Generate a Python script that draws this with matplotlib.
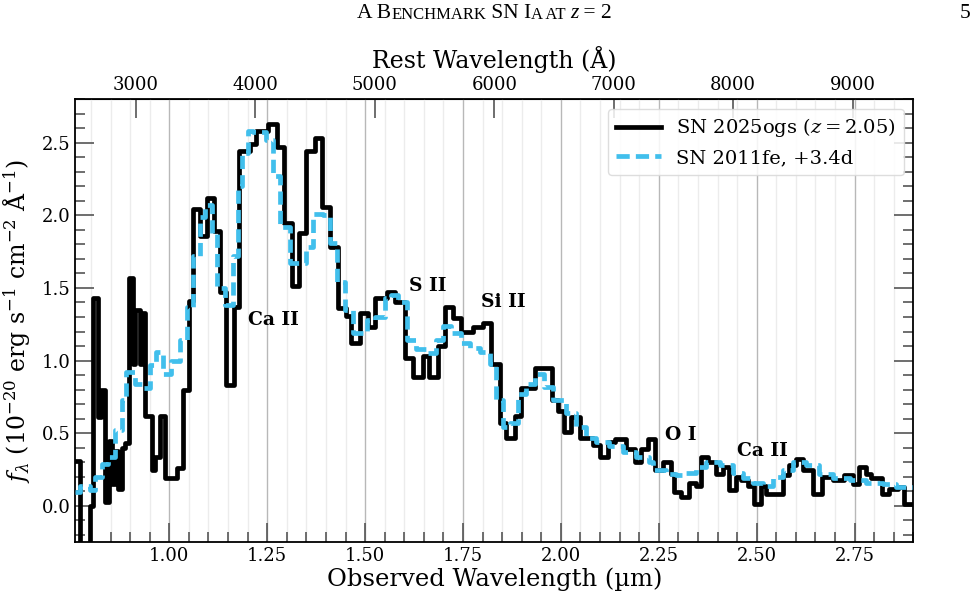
import numpy as np
import matplotlib
matplotlib.use("Agg")
import matplotlib.pyplot as plt
from matplotlib.ticker import MultipleLocator

plt.rcParams["font.family"] = "DejaVu Serif"
plt.rcParams["mathtext.fontset"] = "dejavuserif"

Z = 2.05

# SN 2025ogs binned spectrum: bin edges (observed, um) and flux (1e-20 cgs)
obs_edges = [
    0.760, 0.772, 0.797, 0.806, 0.817, 0.826, 0.836, 0.845, 0.853, 0.861,
    0.870, 0.878, 0.886, 0.898, 0.906, 0.912, 0.924, 0.930, 0.938, 0.955,
    0.964, 0.976, 0.989, 1.019, 1.036, 1.049, 1.061, 1.078, 1.095, 1.115,
    1.129, 1.146, 1.166, 1.179, 1.207, 1.222, 1.252, 1.276, 1.293, 1.312,
    1.330, 1.349, 1.372, 1.390, 1.410, 1.431, 1.452, 1.465, 1.487, 1.508,
    1.525, 1.555, 1.576, 1.601, 1.622, 1.648, 1.663, 1.686, 1.703, 1.725,
    1.746, 1.776, 1.800, 1.822, 1.844, 1.861, 1.882, 1.899, 1.933, 1.976,
    1.992, 2.009, 2.027, 2.048, 2.082, 2.099, 2.120, 2.137, 2.167, 2.188,
    2.205, 2.222, 2.239, 2.260, 2.282, 2.290, 2.307, 2.328, 2.345, 2.358,
    2.375, 2.396, 2.413, 2.430, 2.448, 2.460, 2.477, 2.494, 2.511, 2.524,
    2.566, 2.583, 2.601, 2.617, 2.643, 2.668, 2.694, 2.724, 2.745, 2.762,
    2.779, 2.792, 2.821, 2.839, 2.860, 2.877, 2.900,
]
obs_flux = [
    0.31, -0.35, 0.00, 1.43, 0.61, 0.80, 0.03, 0.45, 0.15, 0.38,
    0.12, 0.40, 0.43, 1.57, 0.98, 1.35, 0.98, 1.33, 0.62, 0.25,
    0.34, 0.62, 0.19, 0.26, 0.80, 1.41, 2.04, 1.86, 2.12, 1.89,
    1.47, 0.83, 1.37, 2.44, 2.49, 2.58, 2.63, 2.47, 1.95, 1.51,
    1.88, 2.44, 2.53, 2.06, 1.78, 1.36, 1.31, 1.12, 1.33, 1.23,
    1.43, 1.47, 1.40, 1.02, 0.89, 1.03, 0.89, 1.10, 1.37, 1.29,
    1.20, 1.23, 1.26, 0.98, 0.57, 0.47, 0.62, 0.81, 0.95, 0.73,
    0.65, 0.51, 0.61, 0.47, 0.42, 0.34, 0.44, 0.46, 0.39, 0.30,
    0.39, 0.46, 0.245, 0.30, 0.22, 0.095, 0.06, 0.16, 0.14, 0.34,
    0.30, 0.22, 0.27, 0.107, 0.20, 0.176, 0.14, 0.015, 0.14, 0.084,
    0.21, 0.28, 0.325, 0.245, 0.084, 0.20, 0.176, 0.21, 0.153, 0.27,
    0.22, 0.19, 0.084, 0.12, 0.13, 0.015,
]

# SN 2011fe template at +3.4d, redshifted and scaled
tmpl_edges = [
    0.760, 0.771, 0.797, 0.810, 0.827, 0.844, 0.861, 0.878, 0.890, 0.912,
    0.929, 0.950, 0.965, 0.984, 1.005, 1.026, 1.045, 1.061, 1.078, 1.091,
    1.108, 1.121, 1.142, 1.162, 1.176, 1.185, 1.202, 1.214, 1.248, 1.265,
    1.282, 1.308, 1.350, 1.368, 1.393, 1.410, 1.427, 1.448, 1.469, 1.504,
    1.525, 1.550, 1.567, 1.584, 1.606, 1.631, 1.657, 1.682, 1.699, 1.720,
    1.746, 1.767, 1.793, 1.818, 1.835, 1.852, 1.869, 1.890, 1.912, 1.933,
    1.958, 1.980, 2.014, 2.039, 2.065, 2.090, 2.124, 2.158, 2.192, 2.226,
    2.235, 2.269, 2.294, 2.320, 2.345, 2.371, 2.405, 2.439, 2.465, 2.490,
    2.516, 2.541, 2.567, 2.592, 2.626, 2.660, 2.694, 2.737, 2.779, 2.822,
    2.856, 2.900,
]
tmpl_flux = [
    0.095, 0.14, 0.11, 0.20, 0.29, 0.34, 0.52, 0.73, 0.92, 0.84,
    0.81, 0.97, 1.06, 0.91, 1.00, 1.14, 1.37, 1.72, 1.99, 2.07,
    1.87, 1.50, 1.38, 1.72, 2.20, 2.43, 2.58, 2.57, 2.52, 2.27,
    1.92, 1.67, 1.78, 2.01, 2.00, 1.81, 1.54, 1.35, 1.19, 1.28,
    1.30, 1.43, 1.45, 1.40, 1.14, 1.08, 1.05, 1.14, 1.24, 1.19,
    1.12, 1.09, 1.06, 0.98, 0.73, 0.54, 0.57, 0.77, 0.84, 0.91,
    0.82, 0.73, 0.64, 0.54, 0.47, 0.44, 0.41, 0.37, 0.34, 0.30,
    0.245, 0.22, 0.21, 0.23, 0.27, 0.30, 0.28, 0.23, 0.19, 0.16,
    0.14, 0.20, 0.245, 0.30, 0.28, 0.22, 0.19, 0.176, 0.16, 0.15,
    0.13,
]

# line identifications
line_names = ["Ca II", "S II", "Si II", "O I", "Ca II"]
line_x = [1.265, 1.660, 1.854, 2.307, 2.514]
line_y = [1.28, 1.51, 1.40, 0.49, 0.38]

rest_ticks = [3000, 4000, 5000, 6000, 7000, 8000, 9000]

fig = plt.figure(figsize=(9.76, 6.01), dpi=100)
ax = fig.add_axes([0.0772, 0.0977, 0.8586, 0.7376])

ax.step(obs_edges, np.append(obs_flux, obs_flux[-1]), where="post",
        color="black", lw=3.4, zorder=3, label=r"SN 2025ogs ($z=2.05$)")
ax.step(tmpl_edges, np.append(tmpl_flux, tmpl_flux[-1]), where="post",
        color="#41bfec", lw=3.4, ls=(0, (2.8, 1.3)), zorder=4,
        label="SN 2011fe, +3.4d")

for name, x, y in zip(line_names, line_x, line_y):
    ax.text(x, y, name, fontsize=13.5, fontweight="bold",
            ha="center", va="center", zorder=5)

ax.set_xlim(0.76, 2.9)
ax.set_ylim(-0.25, 2.8)

ax.xaxis.set_major_locator(MultipleLocator(0.25))
ax.xaxis.set_minor_locator(MultipleLocator(0.05))
ax.yaxis.set_major_locator(MultipleLocator(0.5))
ax.yaxis.set_minor_locator(MultipleLocator(0.1))
ax.xaxis.set_major_formatter("{x:.2f}")
ax.yaxis.set_major_formatter("{x:.1f}")

ax.set_axisbelow(True)
ax.grid(which="minor", axis="x", color="#ececec", lw=1.0)
ax.grid(which="major", axis="x", color="#b8b8b8", lw=1.0)

ax.tick_params(which="both", direction="in", top=False, right=True,
               color="#555555", labelsize=13, width=1.2)
ax.tick_params(which="major", length=14)
ax.tick_params(which="minor", length=7)
for sp in ax.spines.values():
    sp.set_linewidth(1.3)

ax.set_xlabel("Observed Wavelength (µm)", fontsize=17.5, labelpad=2)
ax.set_ylabel(r"$f_\lambda$ ($10^{-20}$ erg s$^{-1}$ cm$^{-2}$ Å$^{-1}$)",
              fontsize=17, labelpad=6)

sec = ax.secondary_xaxis("top", functions=(lambda w: w * 1e4 / (1 + Z),
                                           lambda r: r * (1 + Z) / 1e4))
sec.set_xticks(rest_ticks)
sec.tick_params(direction="in", length=14, width=1.2, color="#555555",
                labelsize=13)
sec.set_xlabel("Rest Wavelength (Å)", fontsize=17, labelpad=6)

leg = ax.legend(loc="upper right", fontsize=14, handlelength=2.3,
                fancybox=True, framealpha=0.85, edgecolor="#d8d8d8")

# running page header (small caps imitation)
hdr = [("A B", 15.5), ("ENCHMARK", 12), (" SN I", 15.5), ("A AT ", 12)]
prev = fig.text(0.366, 1 - 23 / 601, hdr[0][0], fontsize=hdr[0][1],
                family="Liberation Serif", va="bottom")
for txt, size in hdr[1:]:
    prev = ax.annotate(txt, xy=(1, 0), xycoords=prev, fontsize=size,
                       family="Liberation Serif", va="bottom",
                       annotation_clip=False)
prev = ax.annotate("z", xy=(1, 0), xycoords=prev, fontsize=15.5,
                   family="Liberation Serif", style="italic", va="bottom",
                   annotation_clip=False)
ax.annotate(" = 2", xy=(1, 0), xycoords=prev, fontsize=15.5,
            family="Liberation Serif", va="bottom", annotation_clip=False)
fig.text(0.994, 1 - 23 / 601, "5", fontsize=15.5, family="Liberation Serif",
         ha="right", va="bottom")

fig.savefig("out.png", dpi=100)
